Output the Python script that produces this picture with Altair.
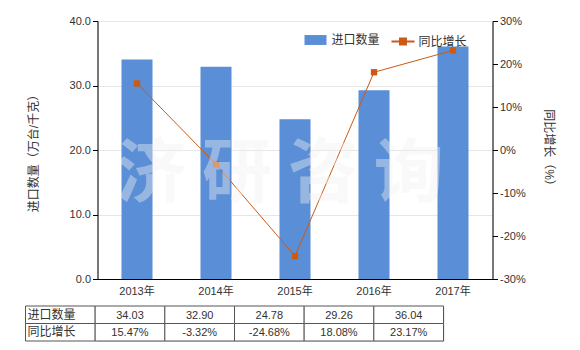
import altair as alt
import pandas as pd

years = ["2013年", "2014年", "2015年", "2016年", "2017年"]
qty = [34.03, 32.90, 24.78, 29.26, 36.04]
growth = [15.47, -3.32, -24.68, 18.08, 23.17]
qty_labels = ["34.03", "32.90", "24.78", "29.26", "36.04"]
growth_labels = ["15.47%", "-3.32%", "-24.68%", "18.08%", "23.17%"]
row_names = ["进口数量", "同比增长"]
watermark_text = ["济 研 咨 询"]
watermark_pos = ["2015年"]
watermark_val = [-6.0]

FONT = "Liberation Sans, Noto Sans CJK SC"
BLUE = "#5a8ed6"
ORANGE = "#cc5a14"

df = pd.DataFrame({"year": years, "qty": qty, "growth": growth,
                   "s1": [row_names[0]] * 5, "s2": [row_names[1]] * 5})
wm = pd.DataFrame({"year": watermark_pos, "growth": watermark_val, "t": watermark_text})

xenc = alt.X("year:N", sort=years, title=None,
             scale=alt.Scale(paddingInner=0.6, paddingOuter=0.3),
             axis=alt.Axis(labelAngle=0, ticks=False, domainColor="#000", labelPadding=6,
                           labelFontSize=11, labelColor="#333", labelFont=FONT))

bars = alt.Chart(df).mark_bar(size=31).encode(
    x=xenc,
    y=alt.Y("qty:Q", title="进口数量（万台/千克）",
            scale=alt.Scale(domain=[0, 40], nice=False),
            axis=alt.Axis(values=[0, 10, 20, 30, 40], format=".1f", grid=True, gridColor="#e6e6e6",
                          domainColor="#000", tickColor="#000", tickSize=5,
                          labelFontSize=11, labelColor="#333", labelFont=FONT,
                          titleFontSize=12, titleFontWeight="normal", titleColor="#333",
                          titleFont=FONT, titlePadding=29)),
    color=alt.Color("s1:N", scale=alt.Scale(range=[BLUE]),
                    legend=alt.Legend(orient="none", legendX=207, legendY=8, title=None,
                                      symbolType="M-1,-0.45L1,-0.45L1,0.45L-1,0.45Z",
                                      symbolSize=484, symbolStrokeWidth=0, labelOffset=5,
                                      labelFontSize=12, labelFont=FONT, labelColor="#333", padding=0)),
)

yright = alt.Y("growth:Q", title="同比增长（%）",
               scale=alt.Scale(domain=[-30, 30], nice=False),
               axis=alt.Axis(orient="right", values=[-30, -20, -10, 0, 10, 20, 30],
                             labelExpr="datum.value + '%'", grid=False,
                             domainColor="#000", tickColor="#000", tickSize=5,
                             labelFontSize=11, labelColor="#333", labelFont=FONT,
                             titleFontSize=12, titleFontWeight="normal", titleColor="#333",
                             titleFont=FONT, titlePadding=16))

line = alt.Chart(df).mark_line(strokeWidth=1).encode(
    x=alt.X("year:N", sort=years),
    y=yright,
    stroke=alt.Stroke("s2:N", scale=alt.Scale(range=[ORANGE]),
                      legend=alt.Legend(orient="none", legendX=293, legendY=8, title=None,
                                        symbolType="M-1,0L1,0M-0.26,-0.26L0.26,-0.26L0.26,0.26L-0.26,0.26Z",
                                        symbolSize=529, symbolStrokeWidth=2,
                                        symbolFillColor=ORANGE, labelOffset=3,
                                        labelFontSize=12, labelFont=FONT, labelColor="#333", padding=0)),
)
points = alt.Chart(df).mark_point(shape="square", filled=True, size=40, color=ORANGE, opacity=1).encode(
    x=alt.X("year:N", sort=years),
    y=yright,
)
watermark = alt.Chart(wm).mark_text(fontSize=70, fontWeight="bold", font="Noto Sans CJK SC",
                                    color="#f2f2f2", opacity=0.4, dx=-15).encode(
    x=alt.X("year:N", sort=years),
    y=yright,
    text="t:N",
)

right = alt.layer(line, points, watermark)
main = alt.layer(bars, right).resolve_scale(y="independent").properties(width=395, height=258)

# table
col_keys = ["label"] + years
cells = []
for r, name in enumerate(row_names):
    cells.append({"col": "label", "row": name, "t": name, "kind": "label"})
    labels = qty_labels if r == 0 else growth_labels
    for y, t in zip(years, labels):
        cells.append({"col": y, "row": name, "t": t, "kind": "value"})
tdf = pd.DataFrame(cells)

tscale = alt.Scale(paddingInner=0, paddingOuter=0, range=[-72, 346])
tx = alt.X("col:N", sort=col_keys, axis=None, scale=tscale)
ty = alt.Y("row:N", sort=row_names, axis=None, scale=alt.Scale(paddingInner=0, paddingOuter=0))
rects = alt.Chart(tdf).mark_rect(fill="white", stroke="#555", strokeWidth=1).encode(x=tx, y=ty)
vals = alt.Chart(tdf).transform_filter("datum.kind == 'value'").mark_text(
    fontSize=11, font=FONT, color="#333", dy=1).encode(x=tx, y=ty, text="t:N")
labs = alt.Chart(tdf).transform_filter("datum.kind == 'label'").mark_text(
    fontSize=12, font=FONT, color="#333", align="left", dx=2).encode(
    x=alt.X("col:N", sort=col_keys, axis=None, bandPosition=0, scale=tscale),
    y=ty, text="t:N")
table = alt.layer(rects, vals, labs).properties(width=346, height=35)

chart = alt.vconcat(main, table, spacing=8).properties(
    padding={"top": 14, "left": 24.5, "right": 5, "bottom": 5}
).configure_view(strokeWidth=0).configure(background="white")

chart.save("out.html", embed_options={"renderer": "svg", "actions": False})
